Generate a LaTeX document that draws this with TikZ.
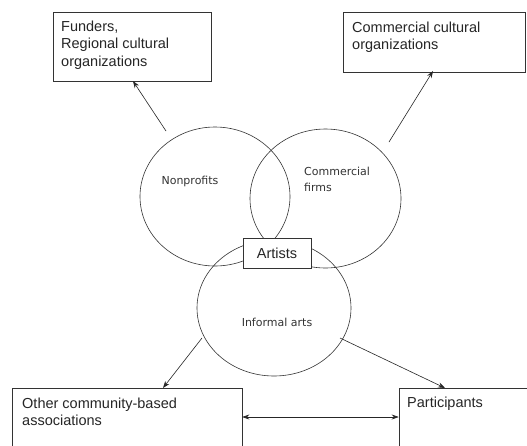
\documentclass[tikz,border=0pt]{standalone}
\usepackage{fontspec}
\setmainfont{Liberation Sans}
\newfontfamily\ellfont{DejaVu Sans}
\usetikzlibrary{shapes.geometric,arrows.meta}
\begin{document}
\begin{tikzpicture}[x=1pt,y=-1pt,
  boxframe/.style={draw=black!80,line width=0.6pt,fill=white},
  boxtext/.style={anchor=north west,align=left,inner sep=0pt,font=\fontsize{14.5}{17.5}\selectfont,text=black!85},
  ell/.style={draw=black!80,line width=0.6pt,ellipse},
  elltext/.style={font=\ellfont\fontsize{11}{16}\selectfont,text=black!80,align=left,inner sep=0pt},
  arr/.style={draw=black!85,line width=0.6pt,-{Stealth[length=7pt,width=5pt]}}]
\useasboundingbox[fill=white] (0,0) rectangle (527,445);
% ellipses
\node[ell,minimum width=150,minimum height=139] (np) at (215,196.5) {};
\node[ell,minimum width=151,minimum height=139] (cf) at (325.5,198.5) {};
\node[ell,minimum width=154,minimum height=136] (ia) at (274,308) {};
\node[elltext,anchor=base] (npt) at (190,184) {Nonprofits};
\node[elltext,anchor=north west] (cft) at (304,166.5) {Commercial\\firms};
\node[elltext,anchor=base] (iat) at (277,326) {Informal arts};
% artists
\node[boxframe,minimum width=68,minimum height=30,inner sep=0pt,font=\fontsize{14.5}{16}\selectfont,text=black!85] (art) at (277,253) {Artists};
% boxes
\node[boxframe,minimum width=158,minimum height=69,inner sep=0pt] (fund) at (132,46.5) {};
\node[boxtext] (fundt) at (61,20.5) {Funders,\\Regional cultural\\organizations};
\node[boxframe,minimum width=182,minimum height=60,inner sep=0pt] (comm) at (434,42) {};
\node[boxtext] (commt) at (352,21.5) {Commercial cultural\\organizations};
\node[boxframe,minimum width=230,minimum height=70,inner sep=0pt] (oth) at (127,423) {};
\node[boxtext] (otht) at (22,397.5) {Other community-based\\associations};
\node[boxframe,minimum width=140,minimum height=70,inner sep=0pt] (part) at (469,423) {};
\node[boxtext] (partt) at (407,396.5) {Participants};
% arrows
\coordinate (a1) at (166,131);
\coordinate (a2) at (389,142);
\coordinate (a3) at (202,338);
\coordinate (a4) at (340,338);
\draw[arr] (a1) -- (133,81) coordinate (fundin);
\draw[arr] (a2) -- (433,71) coordinate (commin);
\draw[arr] (a3) -- (163,388) coordinate (othin);
\draw[arr] (a4) -- (445,388) coordinate (partin);
\draw[draw=black!85,line width=0.6pt,{Stealth[length=7pt,width=5pt]}-{Stealth[length=7pt,width=5pt]}] (oth.east |- 0,417) -- (part.west |- 0,417);
\end{tikzpicture}
\end{document}
